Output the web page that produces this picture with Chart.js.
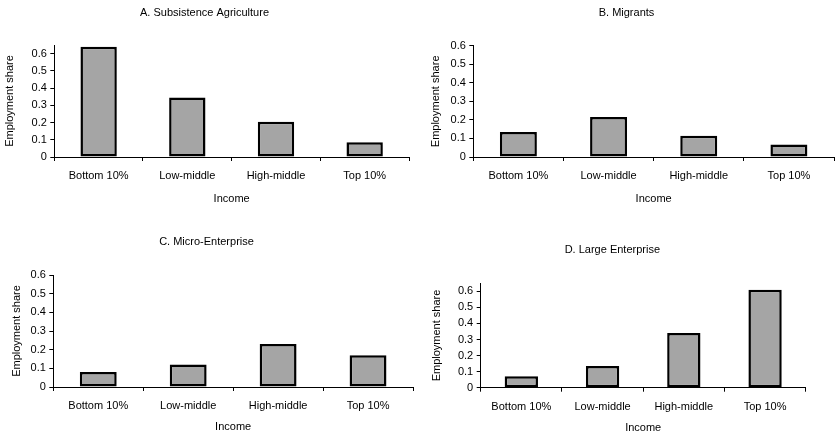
<!DOCTYPE html>
<html>
<head>
<meta charset="utf-8">
<script src="https://cdn.jsdelivr.net/npm/chart.js@4/dist/chart.umd.min.js"></script>
<style>
  html, body { margin: 0; padding: 0; background: #fff; }
  #wrap { position: relative; width: 838px; height: 435px; }
  #wrap canvas { position: absolute; }
</style>
</head>
<body>
<div id="wrap">
  <canvas id="panelA" width="419" height="217" style="left:0px;top:0px;width:419px;height:217px"></canvas>
  <canvas id="panelB" width="419" height="217" style="left:419px;top:0px;width:419px;height:217px"></canvas>
  <canvas id="panelC" width="419" height="210" style="left:0px;top:225px;width:419px;height:210px"></canvas>
  <canvas id="panelD" width="419" height="210" style="left:419px;top:225px;width:419px;height:210px"></canvas>
</div>
<script>
// Income groups on the horizontal axis
const incomeGroups = ['Bottom 10%', 'Low-middle', 'High-middle', 'Top 10%'];

// Employment share by income group, one array per sector
const subsistenceAgriculture = [0.64, 0.345, 0.205, 0.085];
const migrants = [0.135, 0.215, 0.115, 0.068];
const microEnterprise = [0.08, 0.12, 0.23, 0.17];
const largeEnterprise = [0.072, 0.135, 0.34, 0.61];

// Vertical axis tick values
const yTickValues = [0, 0.1, 0.2, 0.3, 0.4, 0.5, 0.6];

const panelTitles = ['A. Subsistence Agriculture', 'B. Migrants', 'C. Micro-Enterprise', 'D. Large Enterprise'];
const yAxisTitle = 'Employment share';
const xAxisTitle = 'Income';

Chart.defaults.font.family = "'Liberation Sans', Arial, Helvetica, sans-serif";
Chart.defaults.font.size = 11;
Chart.defaults.color = '#000';

// Per-panel layout: padding, fixed axis sizes and axis maximum
const panels = [
  { id: 'panelA', title: panelTitles[0], data: subsistenceAgriculture, yMax: 0.65,
    pad: { left: 0, right: 10, top: 0, bottom: 10 }, titlePad: { top: 6, bottom: 25.8 },
    yWidth: 54.3, xHeight: 50, yTitlePad: 3.4, xTitlePad: 1.6 },
  { id: 'panelB', title: panelTitles[1], data: migrants, yMax: 0.6,
    pad: { left: 0, right: 4, top: 0, bottom: 10 }, titlePad: { top: 6, bottom: 26.5 },
    yWidth: 54.3, xHeight: 50, yTitlePad: 10, xTitlePad: 1.6 },
  { id: 'panelC', title: panelTitles[2], data: microEnterprise, yMax: 0.6,
    pad: { left: 0, right: 6, top: 0, bottom: 1.5 }, titlePad: { top: 10.1, bottom: 26.7 },
    yWidth: 53.3, xHeight: 46.5, yTitlePad: 10.1, xTitlePad: 0 },
  { id: 'panelD', title: panelTitles[3], data: largeEnterprise, yMax: 0.65,
    pad: { left: 0, right: 32.3, top: 0, bottom: 0 }, titlePad: { top: 18.5, bottom: 26.6 },
    yWidth: 61.7, xHeight: 47.3, yTitlePad: 11.4, xTitlePad: 0 }
];

panels.forEach(p => {
  new Chart(document.getElementById(p.id), {
    type: 'bar',
    data: {
      labels: incomeGroups,
      datasets: [{
        data: p.data,
        backgroundColor: '#a5a5a5',
        borderColor: '#000',
        borderWidth: 2.5,
        borderSkipped: false,
        categoryPercentage: 1,
        barPercentage: 0.41
      }]
    },
    options: {
      responsive: false,
      animation: false,
      devicePixelRatio: 1,
      layout: { padding: p.pad },
      plugins: {
        legend: { display: false },
        tooltip: { enabled: false },
        title: {
          display: true,
          text: p.title,
          color: '#000',
          font: { size: 11, weight: 'normal' },
          padding: p.titlePad
        }
      },
      scales: {
        x: {
          offset: true,
          afterFit: s => { s.height = p.xHeight; },
          grid: { display: true, offset: true, drawOnChartArea: false, drawTicks: true, tickLength: 4, color: '#000' },
          border: { display: true, color: '#000', width: 1 },
          ticks: { padding: 8.5, color: '#000', maxRotation: 0 },
          title: { display: true, text: xAxisTitle, color: '#000', font: { size: 11 }, padding: { top: 0, bottom: p.xTitlePad } }
        },
        y: {
          min: 0,
          max: p.yMax,
          afterFit: s => { s.width = p.yWidth; },
          afterBuildTicks: s => { s.ticks = yTickValues.map(v => ({ value: v })); },
          grid: { display: true, drawOnChartArea: false, drawTicks: true, tickLength: 4, color: '#000' },
          border: { display: true, color: '#000', width: 1 },
          ticks: {
            padding: 3.5,
            color: '#000',
            callback: v => (Math.abs(v) < 1e-9 ? '0' : v.toFixed(1))
          },
          title: { display: true, text: yAxisTitle, color: '#000', font: { size: 11 }, padding: { top: p.yTitlePad, bottom: 0 } }
        }
      }
    }
  });
});
</script>
</body>
</html>
